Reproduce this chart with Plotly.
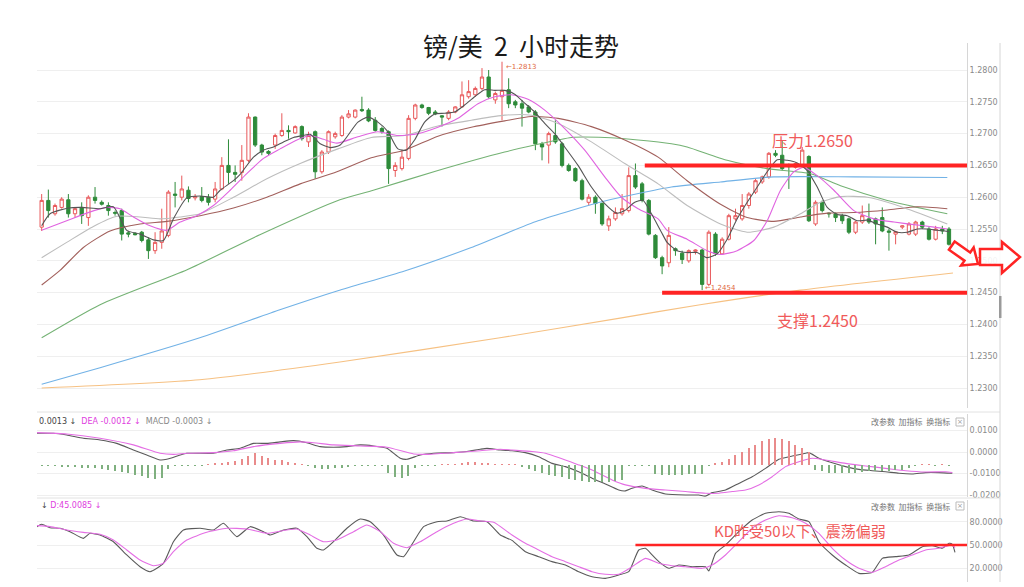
import math
import plotly.graph_objects as go

# ---------------- candles (2h GBP/USD) ----------------
opens = [1.2553,1.2595,1.2574,1.2584,1.2596,1.2574,1.2584,1.2568,1.2600,1.2592,
         1.2587,1.2576,1.2579,1.2544,1.2543,1.2545,1.2533,1.2516,1.2529,1.2540,
         1.2605,1.2600,1.2611,1.2599,1.2601,1.2600,1.2597,1.2613,1.2650,1.2639,
         1.2639,1.2658,1.2726,1.2682,1.2672,1.2682,1.2697,1.2705,1.2701,1.2711,
         1.2687,1.2703,1.2640,1.2671,1.2695,1.2697,1.2726,1.2726,1.2738,1.2737,
         1.2721,1.2708,1.2703,1.2642,1.2645,1.2661,1.2724,1.2745,1.2741,1.2734,
         1.2728,1.2724,1.2734,1.2742,1.2758,1.2761,1.2771,1.2789,1.2753,1.2758,
         1.2769,1.2750,1.2747,1.2742,1.2734,1.2684,1.2682,1.2697,1.2684,1.2650,
         1.2645,1.2626,1.2592,1.2600,1.2590,1.2555,1.2566,1.2574,1.2579,1.2634,
         1.2621,1.2595,1.2540,1.2505,1.2497,1.2519,1.2512,1.2500,1.2515,1.2517,
         1.2463,1.2542,1.2511,1.2534,1.2566,1.2566,1.2587,1.2608,1.2624,1.2632,
         1.2669,1.2666,1.2650,1.2647,1.2650,1.2664,1.2558,1.2592,1.2575,1.2574,
         1.2571,1.2566,1.2545,1.2561,1.2566,1.2566,1.2568,1.2547,1.2542,1.2553,
         1.2542,1.2542,1.2561,1.2550,1.2534,1.2550,1.2550]
highs = [1.2605,1.2612,1.2590,1.2600,1.2605,1.2584,1.2592,1.2603,1.2616,1.2595,
         1.2592,1.2579,1.2582,1.2547,1.2545,1.2547,1.2537,1.2545,1.2582,1.2611,
         1.2624,1.2634,1.2617,1.2605,1.2616,1.2605,1.2624,1.2663,1.2691,1.2650,
         1.2682,1.2732,1.2727,1.2684,1.2674,1.2700,1.2732,1.2713,1.2713,1.2713,
         1.2703,1.2705,1.2674,1.2705,1.2703,1.2729,1.2737,1.2738,1.2758,1.2740,
         1.2726,1.2711,1.2705,1.2655,1.2674,1.2729,1.2747,1.2747,1.2742,1.2737,
         1.2729,1.2737,1.2743,1.2782,1.2784,1.2774,1.2803,1.2800,1.2766,1.2813,
         1.2787,1.2753,1.2753,1.2745,1.2737,1.2687,1.2703,1.2721,1.2687,1.2653,
         1.2647,1.2629,1.2605,1.2603,1.2592,1.2571,1.2584,1.2605,1.2647,1.2653,
         1.2624,1.2597,1.2542,1.2508,1.2553,1.2521,1.2516,1.2518,1.2518,1.2519,
         1.2548,1.2545,1.2537,1.2574,1.2582,1.2605,1.2608,1.2629,1.2634,1.2671,
         1.2674,1.2689,1.2653,1.2655,1.2679,1.2666,1.2595,1.2595,1.2576,1.2576,
         1.2574,1.2568,1.2563,1.2587,1.2590,1.2568,1.2584,1.2550,1.2547,1.2556,
         1.2561,1.2563,1.2563,1.2553,1.2555,1.2555,1.2553]
lows = [1.2547,1.2568,1.2571,1.2582,1.2568,1.2568,1.2558,1.2555,1.2590,1.2587,
        1.2571,1.2571,1.2532,1.2537,1.2540,1.2529,1.2503,1.2511,1.2519,1.2537,
        1.2584,1.2595,1.2592,1.2595,1.2592,1.2587,1.2592,1.2611,1.2621,1.2624,
        1.2626,1.2655,1.2679,1.2666,1.2666,1.2676,1.2695,1.2692,1.2700,1.2689,
        1.2679,1.2629,1.2637,1.2668,1.2692,1.2695,1.2724,1.2724,1.2734,1.2718,
        1.2703,1.2700,1.2621,1.2632,1.2642,1.2658,1.2721,1.2739,1.2729,1.2729,
        1.2711,1.2721,1.2732,1.2741,1.2755,1.2758,1.2768,1.2755,1.2747,1.2721,
        1.2740,1.2740,1.2711,1.2732,1.2674,1.2658,1.2653,1.2684,1.2647,1.2640,
        1.2624,1.2595,1.2587,1.2574,1.2555,1.2547,1.2563,1.2571,1.2576,1.2613,
        1.2592,1.2540,1.2503,1.2479,1.2490,1.2508,1.2495,1.2497,1.2510,1.2454,
        1.2460,1.2508,1.2510,1.2532,1.2563,1.2563,1.2582,1.2605,1.2621,1.2629,
        1.2663,1.2642,1.2613,1.2645,1.2647,1.2561,1.2555,1.2576,1.2568,1.2561,
        1.2558,1.2542,1.2542,1.2558,1.2558,1.2526,1.2545,1.2516,1.2526,1.2550,
        1.2540,1.2539,1.2550,1.2532,1.2532,1.2542,1.2524]
closes = [1.2595,1.2579,1.2587,1.2597,1.2574,1.2582,1.2571,1.2600,1.2595,1.2589,
          1.2579,1.2575,1.2542,1.2542,1.2541,1.2532,1.2516,1.2529,1.2547,1.2608,
          1.2603,1.2613,1.2598,1.2601,1.2595,1.2592,1.2613,1.2650,1.2639,1.2636,
          1.2658,1.2726,1.2682,1.2671,1.2669,1.2697,1.2705,1.2703,1.2711,1.2692,
          1.2697,1.2640,1.2671,1.2703,1.2700,1.2726,1.2731,1.2737,1.2736,1.2720,
          1.2705,1.2703,1.2645,1.2650,1.2663,1.2724,1.2745,1.2741,1.2732,1.2731,
          1.2726,1.2734,1.2742,1.2761,1.2766,1.2771,1.2789,1.2758,1.2763,1.2768,
          1.2747,1.2745,1.2740,1.2734,1.2684,1.2679,1.2700,1.2687,1.2650,1.2642,
          1.2626,1.2597,1.2600,1.2590,1.2558,1.2566,1.2576,1.2582,1.2634,1.2616,
          1.2595,1.2542,1.2505,1.2492,1.2540,1.2516,1.2502,1.2516,1.2517,1.2463,
          1.2545,1.2511,1.2534,1.2571,1.2571,1.2587,1.2605,1.2626,1.2632,1.2669,
          1.2666,1.2645,1.2648,1.2653,1.2674,1.2563,1.2592,1.2579,1.2574,1.2568,
          1.2563,1.2545,1.2561,1.2571,1.2561,1.2558,1.2547,1.2545,1.2546,1.2555,
          1.2558,1.2561,1.2553,1.2534,1.2550,1.2547,1.2526]

# ---------------- moving averages ----------------
ma5_x = [0,1.25,4,6,8.75,10.75,12.75,14.75,16.75,18.25,19.75,21.75,23.75,25.75,26.75,28.75,29.75,31.75,33.25,34.75,
         36.25,37.75,39.25,40.25,41.75,43.25,44.75,47.4,48.9,50.4,51.9,53.4,54.65,55.9,57.4,58.9,60.4,61.9,63.4,64.9,
         66.4,67.9,69.4,70.9,72.4,73.9,75.4,76.9,78.4,80.4,82.4,84.4,86.15,87.4,88.9,90.15,91.4,92.9,93.75,95.25,
         96.75,98.25,99.75,101.25,102.75,104.25,105.75,107.25,108.75,110.25,111.75,113.25,114.75,116.25,117.75,119.25,
         120.75,122.25,123.75,125.25,126.75,128.25,129.75,131.25,132.75,134.25,136]
ma5_y = [1.2555,1.2574,1.2583,1.2584,1.2582,1.2585,1.2548,1.2542,1.2533,1.2532,1.2566,1.2599,1.2602,1.2600,1.2611,1.2626,1.2636,1.2663,1.2674,1.2679,
         1.2687,1.2694,1.2697,1.2699,1.2684,1.2678,1.2682,1.2718,1.2726,1.2718,1.2703,1.2676,1.2674,1.2690,1.2718,1.2731,1.2732,1.2734,1.2745,1.2758,
         1.2769,1.2768,1.2768,1.2762,1.2748,1.2734,1.2716,1.2700,1.2679,1.2650,1.2616,1.2590,1.2575,1.2579,1.2592,1.2595,1.2574,1.2545,1.2529,1.2516,
         1.2513,1.2513,1.2505,1.2511,1.2534,1.2566,1.2592,1.2616,1.2640,1.2659,1.2658,1.2654,1.2642,1.2616,1.2584,1.2573,
         1.2571,1.2563,1.2564,1.2558,1.2553,1.2545,1.2545,1.2550,1.2550,1.2548,1.2546]
ma10_x = [0,3.75,6.75,9.75,11.75,13.75,16.25,18.75,20.75,23.25,25.75,28.25,30.75,33.25,35.75,38.25,40.25,42.25,44.25,
          47.4,50.4,53.4,56.4,59.4,62.4,65.4,67.9,70.4,72.9,75.4,78.4,81.4,84.4,86.9,89.4,92.4,
          93.75,96.75,99.75,101.75,104.25,106.75,108.75,110.75,112.75,114.25,116.25,118.75,121.75,124.75,127.75,130.75,133.75,135.75]
ma10_y = [1.2548,1.2563,1.2575,1.2584,1.2582,1.2569,1.2555,1.2548,1.2561,1.2571,1.2587,1.2611,1.2637,1.2661,1.2676,1.2690,1.2697,1.2691,1.2685,
          1.2695,1.2703,1.2697,1.2700,1.2710,1.2724,1.2747,1.2758,1.2761,1.2754,1.2737,1.2708,1.2674,1.2632,1.2600,1.2582,1.2566,
          1.2548,1.2534,1.2516,1.2510,1.2516,1.2532,1.2563,1.2611,1.2640,1.2647,1.2634,1.2611,1.2579,1.2566,1.2561,1.2557,1.2553,1.2550]
ma20_x = [0,3.75,7.75,11.25,14.75,17.75,20.75,23.75,28.75,33.75,38.75,44.4,49.4,54.4,59.4,64.4,69.4,73.4,77.4,82.4,
          87.4,92.4,96.75,101.75,105.75,109.75,113.75,116.75,119.75,123.75,127.75,131.75,135.75]
ma20_y = [1.2505,1.2529,1.2554,1.2570,1.2569,1.2566,1.2569,1.2574,1.2600,1.2629,1.2653,1.2676,1.2694,1.2697,1.2712,1.2721,1.2729,1.2729,1.2716,1.2687,
          1.2653,1.2621,1.2587,1.2558,1.2545,1.2553,1.2574,1.2592,1.2601,1.2600,1.2589,1.2574,1.2558]
ma30_x = [0,2.75,6.25,10.25,14.75,18.75,23.75,28.75,33.75,38.75,44.25,49.4,54.4,59.4,64.4,69.4,73.4,77.4,82.4,87.4,
          92.4,96.75,101.75,105.75,109.75,113.75,117.75,121.75,126.75,131.25,135.75]
ma30_y = [1.2462,1.2485,1.2521,1.2547,1.2558,1.2562,1.2571,1.2583,1.2600,1.2621,1.2640,1.2662,1.2674,1.2696,1.2710,1.2720,1.2727,1.2724,1.2711,1.2690,
          1.2663,1.2626,1.2589,1.2568,1.2562,1.2569,1.2575,1.2576,1.2580,1.2585,1.2582]
ma60_x = [0,8.75,21.8,32.7,44.7,49.7,59.4,69.4,73.9,79.4,84.4,89.4,94.4,96.75,102.75,108.75,115.25,119.75,126.75,135.75]
ma60_y = [1.2379,1.2431,1.2486,1.2541,1.2596,1.2611,1.2642,1.2671,1.2682,1.2694,1.2694,1.2690,1.2684,1.2679,1.2658,1.2645,1.2637,1.2618,1.2595,1.2574]
ma120_x = [0,8.75,23.7,35.7,44.4,54.4,64.4,74.4,84.4,94.4,101.75,109.75,121.75,135.75]
ma120_y = [1.2306,1.2332,1.2379,1.2423,1.2453,1.2484,1.2521,1.2563,1.2594,1.2616,1.2624,1.2632,1.2632,1.2631]
ma250_x = [0,23.7,44.7,68.7,86.7,98.7,113.7,136.6]
ma250_y = [1.2300,1.2313,1.2341,1.2379,1.2410,1.2431,1.2454,1.2481]

# ---------------- MACD ----------------
dif_x = [-0.7,1.75,3.75,6.25,8.75,11.25,13.75,15.75,17.75,18.75,20.75,21.75,25.75,27.75,29.75,31.75,33.75,35.75,37.75,39.75,
         41.75,43.75,45.75,47.75,49.75,51.75,53.75,54.75,56.75,58.75,61.75,63.75,65.75,66.75,68.75,70.5,72.5,74.5,76.5,78.5,
         80.5,82.5,84.5,86.5,87.5,88.5,90,91.5,93.5,96.5,98.5,99.5,100.5,102.5,104.5,106.5,108.5,110.5,112.5,114.5,
         115,116.5,118.5,120.5,122.5,124.5,126.5,128.5,130.5,132.5,134.5,136.5]
dif_y = [0.0087,0.0087,0.0079,0.0064,0.0056,0.0040,0.0009,-0.0014,-0.0037,-0.0034,-0.0014,-0.0006,-0.0006,0.0009,0.0017,0.0040,0.0040,0.0047,0.0053,0.0043,
         0.0025,0.0022,0.0025,0.0033,0.0028,0.0017,-0.0029,-0.0034,-0.0014,-0.0006,-0.0003,0.0002,0.0013,0.0017,0.0009,0.0006,-0.0003,-0.0022,-0.0053,-0.0068,
         -0.0092,-0.0122,-0.0149,-0.0177,-0.0181,-0.0169,-0.0158,-0.0177,-0.0195,-0.0200,-0.0200,-0.0205,-0.0189,-0.0177,-0.0146,-0.0115,-0.0076,-0.0034,-0.0019,-0.0006,
         -0.0003,-0.0029,-0.0050,-0.0068,-0.0081,-0.0087,-0.0092,-0.0099,-0.0102,-0.0096,-0.0096,-0.0099]
dea_x = [-0.7,3.75,8.75,13.75,17.75,19.75,21.75,25.75,28.75,31.75,35.75,38.75,40.75,43.75,47.75,51.75,55.75,57.75,61.75,65.75,
         68.75,70.5,73.5,75.5,78.5,80.5,82.5,85.5,87.5,90.5,93.5,96.5,99.5,101.5,103.5,105.5,107.5,109.5,111.5,113.5,
         115.5,117.5,120.5,123.5,126.5,129.5,132.5,135.5,136.5]
dea_y = [0.0090,0.0084,0.0064,0.0033,-0.0006,-0.0011,-0.0006,-0.0003,0.0006,0.0025,0.0040,0.0047,0.0043,0.0033,0.0028,0.0022,-0.0009,-0.0011,-0.0003,0.0006,
         0.0013,0.0009,0.0002,-0.0006,-0.0037,-0.0060,-0.0084,-0.0130,-0.0153,-0.0169,-0.0177,-0.0184,-0.0192,-0.0192,-0.0184,-0.0177,-0.0153,-0.0115,-0.0068,-0.0045,
         -0.0029,-0.0037,-0.0053,-0.0065,-0.0076,-0.0087,-0.0093,-0.0092,-0.0096]
macd_hist = [-0.0001,-0.0002,-0.0003,-0.0005,-0.0008,-0.0010,-0.0012,-0.0014,-0.0016,-0.0019,
             -0.0022,-0.0026,-0.0031,-0.0037,-0.0045,-0.0052,-0.0060,-0.0066,-0.0062,-0.0020,
             -0.0004,-0.0002,-0.0002,-0.0003,-0.0002,0.0002,0.0006,0.0010,0.0015,0.0020,
             0.0030,0.0040,0.0054,0.0040,0.0031,0.0025,0.0022,0.0016,0.0008,0.0003,
             -0.0002,-0.0012,-0.0018,-0.0020,-0.0016,-0.0014,-0.0010,-0.0004,-0.0002,-0.0002,
             -0.0002,-0.0003,-0.0035,-0.0055,-0.0062,-0.0050,-0.0012,-0.0003,-0.0002,-0.0002,
             0.0002,0.0002,0.0004,0.0008,0.0012,0.0015,0.0010,0.0006,0.0002,0.0002,
             0.0002,0.0001,-0.0008,-0.0020,-0.0030,-0.0039,-0.0045,-0.0050,-0.0058,-0.0066,
             -0.0072,-0.0076,-0.0078,-0.0078,-0.0078,-0.0078,-0.0076,-0.0070,-0.0004,-0.0002,
             -0.0003,-0.0002,-0.0040,-0.0045,-0.0046,-0.0046,-0.0045,-0.0044,-0.0042,-0.0040,
             -0.0003,0.0006,0.0016,0.0030,0.0045,0.0060,0.0080,0.0095,0.0110,0.0120,
             0.0124,0.0122,0.0110,0.0095,0.0078,0.0060,-0.0025,-0.0030,-0.0035,-0.0038,
             -0.0038,-0.0035,-0.0035,-0.0032,-0.0030,-0.0030,-0.0028,-0.0026,-0.0025,-0.0022,
             -0.0015,-0.0004,0.0003,0.0003,-0.0002,0.0003,-0.0003]

# ---------------- KD ----------------
k_x = [-0.7,0,1.25,2.75,4.25,6.25,7.25,8.75,10.75,12.75,14.75,16.25,18.25,19.75,21.25,23.75,25.75,27.25,29.25,31.25,
       33.25,34.25,36.25,38.25,39.75,41.25,42.25,43.75,45.75,47.75,49.25,51.25,53.25,54.25,55.75,57.25,59.25,60.75,62.75,64.75,
       66.75,68.75,70.5,72.5,74.5,76.5,78.5,80.5,82.5,84.5,86.5,88,89.5,90.5,91.5,92.5,94,95.5,97.5,99.5,
       100,101,102.5,104.5,106.5,108.5,110.5,112,113.5,115,116.5,118.5,120.5,122.5,124.5,126,128,130,132,133.5,
       135,136,136.5,136.9]
k_y = [73.9,77.0,72.6,71.8,67.4,58.7,65.2,63.0,54.3,37.0,21.7,15.2,26.1,54.3,69.6,71.8,69.6,78.3,60.9,73.9,
       67.4,63.0,69.6,71.8,60.9,45.7,43.5,54.3,71.8,83.9,80.4,63.0,37.0,34.8,54.3,73.9,80.4,81.3,86.9,81.3,
       80.4,63.0,56.0,41.3,34.8,28.3,23.9,15.2,8.7,6.5,10.9,15.2,43.5,45.7,37.0,28.3,19.6,23.9,21.7,21.7,
       16.1,39.1,50.0,67.4,82.6,91.3,93.4,91.3,83.9,80.4,54.3,37.0,23.9,13.0,14.3,32.6,34.8,37.0,47.8,49.1,
       45.7,52.2,50.9,40.4]
d_x = [-0.7,1.25,3.75,6.25,8.75,10.75,12.75,14.75,16.75,18.25,19.75,21.75,24.75,27.75,30.75,33.75,36.75,38.25,40.25,42.25,
       44.25,46.75,48.75,50.75,52.75,54.75,56.75,59.25,61.75,63.75,65.75,67.75,70.5,72.5,74.5,76.5,78.5,80.5,82.5,84.5,
       86.5,88.5,90.5,92.5,94.5,96.5,99,100.5,102.5,104.5,106.5,108.5,110.5,112.5,114.5,116.5,118.5,120.5,122.5,124.5,
       126.5,128.5,130.5,132.5,134.5,136.5,136.9]
d_y = [75.2,73.9,69.6,66.5,63.9,56.5,43.5,30.4,23.0,26.1,41.3,56.5,66.5,71.8,70.9,65.2,69.6,70.9,63.0,54.3,
       56.5,67.4,76.1,67.4,52.2,46.5,54.3,67.4,78.3,83.9,81.3,79.6,63.0,52.2,43.5,34.8,28.3,21.7,15.2,11.8,
       11.8,21.7,32.6,26.1,23.0,21.7,19.6,23.9,37.0,54.3,71.8,82.6,88.2,85.6,78.3,65.2,45.7,30.4,19.6,14.3,
       21.7,30.4,37.0,43.5,45.7,50.0,46.5]

# ---------------- levels & labels ----------------
level_prices = [1.2650, 1.2450]
level_starts = [90.4, 93.0]
kd_level = 50
kd_level_start = 89.0
price_ticks = [1.2300,1.2350,1.2400,1.2450,1.2500,1.2550,1.2600,1.2650,1.2700,1.2750,1.2800]
macd_ticks = [0.0100, 0.0000, -0.0100, -0.0200]
macd_ticktext = ["0.0100", "0.0000", "-0.0100", "-0.0200"]
kd_ticks = [20, 50, 80]

idx = list(range(len(closes)))
XR = [-0.7, 138.7]
RED = '#ff2424'
TXT_RED = '#f05a5a'

fig = go.Figure()
fig.add_trace(go.Candlestick(
    x=idx, open=opens, high=highs, low=lows, close=closes,
    increasing=dict(line=dict(color='#e8585a', width=1), fillcolor='rgba(255,255,255,1)'),
    decreasing=dict(line=dict(color='#2e8b3a', width=1), fillcolor='#2e8b3a'),
    whiskerwidth=0, xaxis='x', yaxis='y', showlegend=False, hoverinfo='skip'))

ma_specs = [
    (ma250_x, ma250_y, '#f6c183'),
    (ma120_x, ma120_y, '#72b2e6'),
    (ma60_x, ma60_y, '#74b274'),
    (ma30_x, ma30_y, '#a2605c'),
    (ma20_x, ma20_y, '#bdbdbd'),
    (ma10_x, ma10_y, '#e064e0'),
    (ma5_x, ma5_y, '#555555'),
]
for xs, ys, col in ma_specs:
    fig.add_trace(go.Scatter(x=xs, y=ys, mode='lines', line=dict(color=col, width=1.1, shape='spline', smoothing=0.6),
                             xaxis='x', yaxis='y', hoverinfo='skip', showlegend=False))

for lv, st in zip(level_prices, level_starts):
    fig.add_trace(go.Scatter(x=[st, XR[1]], y=[lv, lv], mode='lines', line=dict(color=RED, width=4),
                             xaxis='x', yaxis='y', hoverinfo='skip', showlegend=False))

# MACD panel
hist_colors = ['#e98b8b' if v > 0 else '#7fb07f' for v in macd_hist]
fig.add_trace(go.Bar(x=idx, y=macd_hist, width=0.2, marker=dict(color=hist_colors, line=dict(width=0)),
                     xaxis='x2', yaxis='y4', hoverinfo='skip', showlegend=False))
fig.add_trace(go.Scatter(x=dif_x, y=dif_y, mode='lines', line=dict(color='#5a5a5a', width=1.1, shape='spline', smoothing=0.5),
                         xaxis='x2', yaxis='y2', hoverinfo='skip', showlegend=False))
fig.add_trace(go.Scatter(x=dea_x, y=dea_y, mode='lines', line=dict(color='#e46ee4', width=1.1, shape='spline', smoothing=0.5),
                         xaxis='x2', yaxis='y2', hoverinfo='skip', showlegend=False))

# KD panel
fig.add_trace(go.Scatter(x=k_x, y=k_y, mode='lines', line=dict(color='#5a5a5a', width=1.1, shape='spline', smoothing=0.5),
                         xaxis='x3', yaxis='y3', hoverinfo='skip', showlegend=False))
fig.add_trace(go.Scatter(x=d_x, y=d_y, mode='lines', line=dict(color='#e46ee4', width=1.1, shape='spline', smoothing=0.5),
                         xaxis='x3', yaxis='y3', hoverinfo='skip', showlegend=False))
fig.add_trace(go.Scatter(x=[kd_level_start, XR[1]], y=[kd_level, kd_level], mode='lines', line=dict(color=RED, width=2.5),
                         xaxis='x3', yaxis='y3', hoverinfo='skip', showlegend=False))

# ---------------- layout ----------------
L, R, T, B = 37, 57, 43, 5
W, H = 1024, 587
PW, PH = W - L - R, H - T - B


def pxx(x):
    return (x - L) / PW


def pyy(y):
    return (H - B - y) / PH


def dom(top, bottom):
    return [pyy(bottom), pyy(top)]


axfont = dict(family='DejaVu Sans', size=8, color='#8a8a8a')
xcommon = dict(range=XR, showticklabels=False, showgrid=False, zeroline=False, ticks='', showline=False)
ycommon = dict(side='right', showgrid=True, gridcolor='#efefef', gridwidth=1, zeroline=False, ticks='',
               showline=True, linecolor='#d6d6d6', linewidth=1, tickfont=axfont, fixedrange=True)

NB = '\u00a0'
fig.update_layout(
    width=W, height=H,
    margin=dict(l=L, r=R, t=T, b=B, autoexpand=False),
    paper_bgcolor='white', plot_bgcolor='white', showlegend=False, bargap=0,
    title=dict(text='镑/美' + NB * 2 + '2' + NB * 2 + '小时走势', x=521 / W, xanchor='center', y=1 - 47 / H, yanchor='middle',
               font=dict(family='Noto Sans CJK SC', size=25, color='#1a1a1a')),
    xaxis=dict(domain=[0, 1], anchor='y', rangeslider=dict(visible=False), **xcommon),
    xaxis2=dict(domain=[0, 1], anchor='y2', **xcommon),
    xaxis3=dict(domain=[0, 1], anchor='y3', **xcommon),
    yaxis=dict(domain=dom(43, 408), anchor='x', range=[1.226866, 1.284245],
               tickvals=price_ticks, ticktext=['%.4f' % v for v in price_ticks], **ycommon),
    yaxis2=dict(domain=dom(414, 497), anchor='x2', range=[-0.02093, 0.01767],
                tickvals=macd_ticks, ticktext=macd_ticktext, **ycommon),
    yaxis4=dict(overlaying='y2', anchor='x2', range=[-0.01488, 0.02372], visible=False, fixedrange=True),
    yaxis3=dict(domain=dom(500, 582), anchor='x3', range=[1.76, 108.67],
                tickvals=kd_ticks, ticktext=['%.4f' % v for v in kd_ticks], **ycommon),
)

shapes = []
# panel separators and right border
for yy in (412, 498):
    shapes.append(dict(type='line', xref='paper', yref='paper', x0=pxx(37), x1=pxx(1000), y0=pyy(yy), y1=pyy(yy),
                       line=dict(color='#e2e2e2', width=1)))
shapes.append(dict(type='line', xref='paper', yref='paper', x0=pxx(1000), x1=pxx(1000), y0=pyy(43), y1=pyy(582),
                   line=dict(color='#d6d6d6', width=1)))
shapes.append(dict(type='rect', xref='paper', yref='paper', x0=pxx(999), x1=pxx(1001.5), y0=pyy(318), y1=pyy(296),
                   line=dict(width=0), fillcolor='#9a9a9a'))
# small close boxes of the indicator panels
for yy in (422, 506):
    shapes.append(dict(type='rect', xref='paper', yref='paper', x0=pxx(956), x1=pxx(964), y0=pyy(yy + 4), y1=pyy(yy - 4),
                       line=dict(color='#bbbbbb', width=1), fillcolor='white'))


def poly_path(pts):
    return 'M ' + ' L '.join('%.5f,%.5f' % (pxx(a), pyy(b)) for a, b in pts) + ' Z'


# hollow red arrows on the right
arrow_right = [(980, 249), (1002, 249), (1002, 242), (1020, 257), (1002, 273), (1002, 265), (980, 265)]
local = [(0, 0), (-13, -11), (-13, -5), (-32, -5), (-32, 5), (-13, 5), (-13, 11)]
ang = math.radians(35)
tipx, tipy = 978, 264
arrow_diag = [(tipx + a * math.cos(ang) - b * math.sin(ang), tipy + a * math.sin(ang) + b * math.cos(ang)) for a, b in local]
for pts in (arrow_diag, arrow_right):
    shapes.append(dict(type='path', xref='paper', yref='paper', path=poly_path(pts),
                       line=dict(color=RED, width=2.5), fillcolor='rgba(255,255,255,0.9)'))
fig.update_layout(shapes=shapes)

ann = []
ann.append(dict(xref='x', yref='y', x=115.5, y=1.2690, text='压力1.2650', showarrow=False,
                font=dict(family='Noto Sans CJK SC', size=16, color=TXT_RED), xanchor='center', yanchor='middle'))
ann.append(dict(xref='x', yref='y', x=116.3, y=1.2407, text='支撑1.2450', showarrow=False,
                font=dict(family='Noto Sans CJK SC', size=16, color=TXT_RED), xanchor='center', yanchor='middle'))
ann.append(dict(xref='x', yref='y', x=69.3, y=1.2804, text='←1.2813', showarrow=False,
                font=dict(family='DejaVu Sans', size=7, color='#e0673e'), xanchor='left', yanchor='middle'))
ann.append(dict(xref='x', yref='y', x=99.2, y=1.2457, text='←1.2454', showarrow=False,
                font=dict(family='DejaVu Sans', size=7, color='#e0673e'), xanchor='left', yanchor='middle'))
ann.append(dict(xref='x3', yref='y3', x=113.7, y=69.5, text='KD昨受50以下、震荡偏弱', showarrow=False,
                font=dict(family='Noto Sans CJK SC', size=15, color=TXT_RED), xanchor='center', yanchor='middle'))
ann.append(dict(xref='paper', yref='paper', x=pxx(37), y=pyy(422), xanchor='left', yanchor='middle', showarrow=False,
                text="<span style='color:#444'>0.0013 ↓</span>  <span style='color:#e040e0'>DEA -0.0012 ↓</span>  "
                     "<span style='color:#888'>MACD -0.0003 ↓</span>",
                font=dict(family='DejaVu Sans', size=8)))
ann.append(dict(xref='paper', yref='paper', x=pxx(39), y=pyy(505), xanchor='left', yanchor='middle', showarrow=False,
                text="<span style='color:#444'>↓</span> <span style='color:#e040e0'>D:45.0085 ↓</span>",
                font=dict(family='DejaVu Sans', size=8)))
for yy in (422, 506):
    ann.append(dict(xref='paper', yref='paper', x=pxx(952), y=pyy(yy), xanchor='right', yanchor='middle', showarrow=False,
                    text='改参数  加指标  换指标', font=dict(family='Noto Sans CJK SC', size=8, color='#777777')))
    ann.append(dict(xref='paper', yref='paper', x=pxx(960), y=pyy(yy), xanchor='center', yanchor='middle', showarrow=False,
                    text='×', font=dict(family='DejaVu Sans', size=7, color='#999999')))
fig.update_layout(annotations=ann)

fig.write_html("out.html", config={'displayModeBar': False},
               post_script="document.body.style.margin='0';document.body.style.overflow='hidden';")
